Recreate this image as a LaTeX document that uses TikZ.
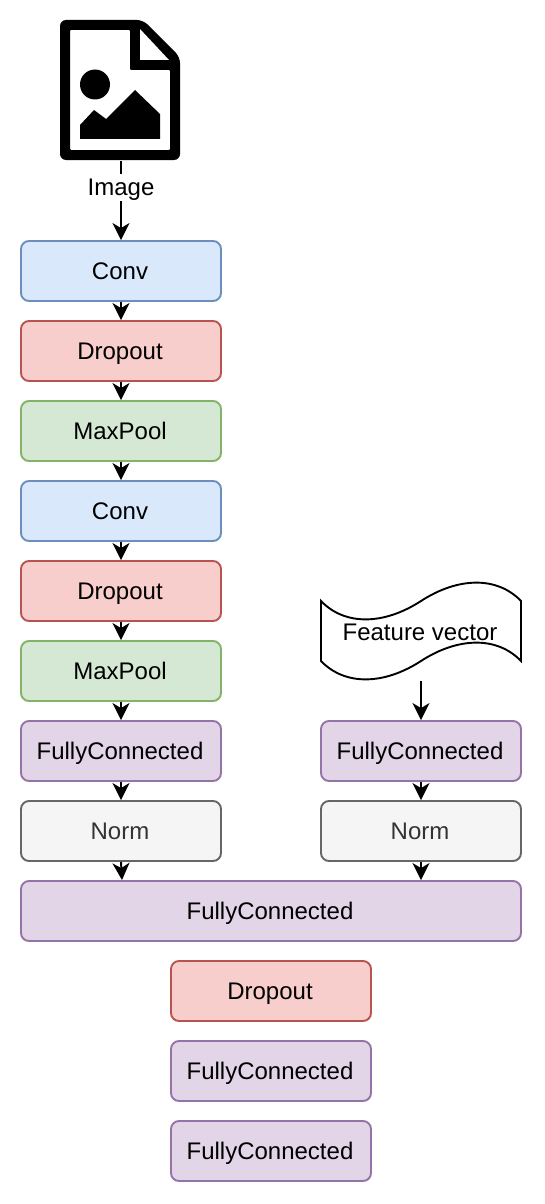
\documentclass[tikz,border=0pt]{standalone}
\usepackage{fontspec}
\setmainfont{Liberation Sans}
\usetikzlibrary{arrows.meta}
\definecolor{bluef}{HTML}{DAE8FC}\definecolor{blued}{HTML}{6C8EBF}
\definecolor{redf}{HTML}{F8CECC}\definecolor{redd}{HTML}{B85450}
\definecolor{greenf}{HTML}{D5E8D4}\definecolor{greend}{HTML}{82B366}
\definecolor{purf}{HTML}{E1D5E7}\definecolor{purd}{HTML}{9673A6}
\definecolor{grayf}{HTML}{F5F5F5}\definecolor{grayd}{HTML}{666666}\definecolor{grayt}{HTML}{333333}
\tikzset{
  x=1pt,y=-1pt,
  lab/.style={inner sep=0pt,text=black,font=\fontsize{24}{28}\selectfont,text height=21.7pt,text depth=5.1pt},
  box/.style={lab,rectangle,rounded corners=8pt,line width=1.9pt,minimum width=200pt,minimum height=60pt,execute at begin node={\kern-2pt}},
  conv/.style={box,draw=blued,fill=bluef},
  drop/.style={box,draw=redd,fill=redf},
  pool/.style={box,draw=greend,fill=greenf},
  fc/.style={box,draw=purd,fill=purf},
  norm/.style={box,draw=grayd,fill=grayf,text=grayt},
  arr/.style={line width=2pt,-{Stealth[length=17pt,width=17pt,inset=5pt]}},
}
\begin{document}
\begin{tikzpicture}
\useasboundingbox (0,0) rectangle (544,1204);
% image icon
\fill[black,even odd rule]
  [rounded corners=6pt] (60,20) -- (143,20) -- (180,57) -- (180,160) -- (60,160) -- cycle
  [rounded corners=1pt] (70,30) -- (130,30) -- (130,70) -- (170,70) -- (170,150) -- (70,150) -- cycle;
\fill[black,rounded corners=6pt] (130,25) -- (130,70) -- (175,70) -- (175,60) -- (140,60) -- (140,25) -- cycle;
\fill[white] (140,29) -- (169,60) -- (140,60) -- cycle;
\fill[black] (95,84.5) circle[radius=15];
\fill[black] (80,125) -- (94,110) -- (106,119) -- (135,90) -- (160,114) -- (160,139) -- (80,139) -- cycle;
\coordinate (img) at (121,161);
% left column
\node[conv] (c1) at (121,271) {Conv};
\node[drop] (d1) at (121,351) {Dropout};
\node[pool] (p1) at (121,431) {MaxPool};
\node[conv] (c2) at (121,511) {Conv};
\node[drop] (d2) at (121,591) {Dropout};
\node[pool] (p2) at (121,671) {MaxPool};
\node[fc] (f1) at (121,751) {FullyConnected};
\node[norm] (n1) at (121,831) {Norm};
% right column
\draw[line width=1.9pt,fill=white]
  (321,601) .. controls (345,626) and (384,625) .. (421,601)
  .. controls (458,577) and (497,576) .. (521,601) -- (521,661)
  .. controls (497,636) and (458,637) .. (421,661)
  .. controls (384,685) and (345,686) .. (321,661) -- cycle;
\node[lab] (fv) at (420,632) {Feature vector};
\coordinate (fvb) at (421,681);
\node[fc] (f2) at (421,751) {FullyConnected};
\node[norm] (n2) at (421,831) {Norm};
% lower
\node[fc,minimum width=500pt] (f3) at (271,911) {FullyConnected};
\node[drop] (d3) at (271,991) {Dropout};
\node[fc] (f4) at (271,1071) {FullyConnected};
\node[fc] (f5) at (271,1151) {FullyConnected};
% connectors
\draw[arr] (img) -- (c1.north) node[pos=0.3375,fill=white,lab] (il) {Image};
\foreach \a/\b in {c1/d1,d1/p1,p1/c2,c2/d2,d2/p2,p2/f1,f1/n1,f2/n2}
  \draw[arr] (\a.south) -- (\b.north);
\draw[arr] (fvb) -- (f2.north);
\draw[arr] (n1.south) -- ([xshift=1pt]n1.south |- f3.north);
\draw[arr] (n2.south) -- (n2.south |- f3.north);
\end{tikzpicture}
\end{document}
